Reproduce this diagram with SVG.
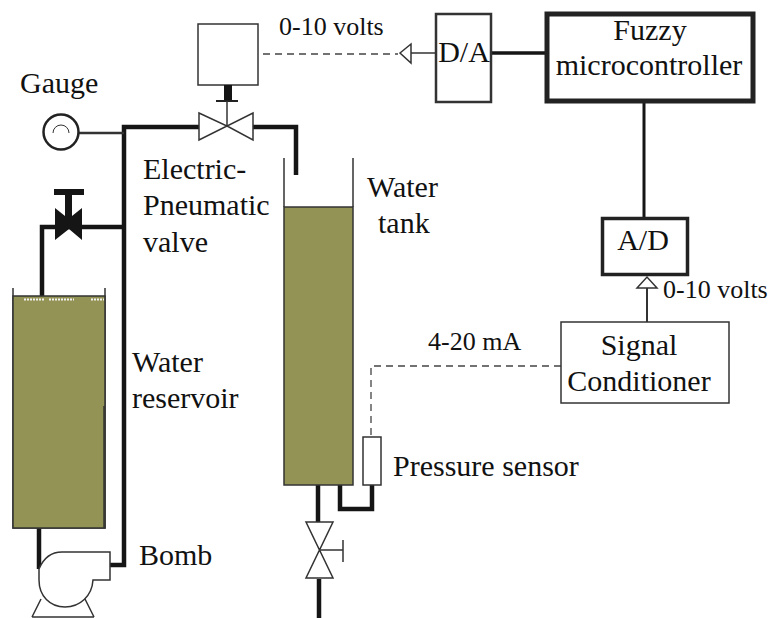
<svg xmlns="http://www.w3.org/2000/svg" width="769" height="618" viewBox="0 0 769 618">
<style>
text{font-family:"Liberation Serif","Times New Roman",serif;fill:#111}
.t30{font-size:30px}.t26{font-size:26px}
.b{fill:#fff;stroke:#333;stroke-width:1.5}
.thin{fill:none;stroke:#333;stroke-width:1.5}
.pipe{fill:none;stroke:#151515;stroke-width:4.5}
.dash{fill:none;stroke:#444;stroke-width:1.3;stroke-dasharray:7 5}
.w{fill:#939355;stroke:#333;stroke-width:1.5}
</style>
<rect width="769" height="618" fill="#fff"/>
<g id="connectors">
<path class="pipe" d="M110 565H124V127H199M253 127H296V175"/>
<path class="pipe" d="M42 297V227H124"/>
<path class="pipe" d="M39 527V569"/>
<path class="thin" style="stroke-width:2.500" d="M79 133H124"/>
<path class="pipe" d="M318 485V522"/>
<path class="pipe" d="M319 579V618"/>
<path class="pipe" d="M340 485V509H372V485"/>
<path class="dash" d="M263 54H398"/>
<path class="thin" d="M411 53H435"/>
<path class="pipe" style="stroke-width:3.500" d="M492 53H546"/>
<path class="pipe" style="stroke-width:3" d="M644 102V217"/>
<path class="thin" style="stroke-width:2" d="M647 288V322"/>
<path class="dash" d="M561 366H371V437"/>
<path class="b" d="M400 53L411 44V63Z"/>
<path class="b" d="M637 288L647 277L657 288Z"/>
</g>
<g id="reservoir">
<path class="thin" d="M13 288V528H105V288"/>
<rect class="w" x="13" y="296" width="92" height="232"/>
<path fill="none" stroke="#f2f2f2" stroke-width="2" stroke-dasharray="2 1" d="M24 299.500H44M49 299.500H74M91 299.500H104"/>
<path stroke="#333" stroke-width="1.500" d="M104 406V528"/>
</g>
<g id="water-tank">
<path class="thin" d="M284 158V207M353 158V207"/>
<rect class="w" x="284" y="207" width="69" height="278"/>
</g>
<g id="gauge">
<circle cx="61" cy="132" r="17.500" fill="#fff" stroke="#222" stroke-width="2.500"/>
<path class="thin" style="stroke-width:1" d="M53 133A8 8 0 0 1 69 133"/>
</g>
<g id="hand-valve">
<path fill="#151515" d="M54 189H84V195H72V216L82 208V240L69 229L55 240V208L65 216V195H54Z"/>
</g>
<g id="electric-valve">
<rect class="b" x="198" y="24" width="60" height="61"/>
<rect x="224" y="85" width="8" height="16" fill="#151515"/>
<path stroke="#222" stroke-width="2" d="M216 101H238"/>
<path class="thin" d="M227 101V126"/>
<path fill="#fff" stroke="#333" stroke-width="1.500" d="M199 113L199 140L227 126ZM253 113L253 140L227 126Z"/>
</g>
<g id="drain-valve">
<path fill="#fff" stroke="#333" stroke-width="1.500" d="M306 522H333L319.500 550ZM306 578H333L319.500 550Z"/>
<path class="thin" d="M319 550H343M343 540V562"/>
</g>
<g id="pump">
<path fill="#fff" stroke="#333" stroke-width="1.500" d="M39 569C44 557 52 552 62 552H110V580H93C92 596 80 607 65 607C50 607 39 596 39 580Z"/>
<path class="thin" d="M32 617L41 599M94 617L85 599M32 617H94"/>
</g>
<g id="pressure-sensor">
<rect class="b" x="363" y="437" width="18" height="48"/>
</g>
<g id="da"><rect x="436" y="14" width="55" height="88" fill="#fff" stroke="#333" stroke-width="2.500"/>
<text class="t30" x="464" y="62" text-anchor="middle">D/A</text></g>
<g id="fuzzy"><rect x="547" y="14" width="206" height="87" fill="#fff" stroke="#222" stroke-width="5"/>
<text class="t30" x="650" y="40" text-anchor="middle">Fuzzy</text>
<text class="t30" x="649" y="75" text-anchor="middle">microcontroller</text></g>
<g id="ad"><rect x="602.500" y="218.500" width="85" height="56" fill="#fff" stroke="#222" stroke-width="3.500"/>
<text class="t30" x="643" y="250" text-anchor="middle">A/D</text></g>
<g id="conditioner"><rect x="561" y="322" width="168" height="81" fill="#fff" stroke="#333" stroke-width="1.500"/>
<text class="t30" x="639" y="355" text-anchor="middle">Signal</text>
<text class="t30" x="639" y="391" text-anchor="middle">Conditioner</text></g>
<g id="labels">
<text class="t26" x="279" y="35">0-10 volts</text>
<text class="t26" x="663" y="298">0-10 volts</text>
<text class="t26" x="428" y="350">4-20 mA</text>
<text class="t30" x="20" y="93">Gauge</text>
<text class="t30" x="143" y="179">Electric-</text>
<text class="t30" x="143" y="215">Pneumatic</text>
<text class="t30" x="143" y="252">valve</text>
<text class="t30" x="367" y="197">Water</text>
<text class="t30" x="378" y="233">tank</text>
<text class="t30" x="132" y="372">Water</text>
<text class="t30" x="132" y="408">reservoir</text>
<text class="t30" x="139" y="565">Bomb</text>
<text class="t30" x="393" y="476">Pressure sensor</text>
</g>
</svg>
